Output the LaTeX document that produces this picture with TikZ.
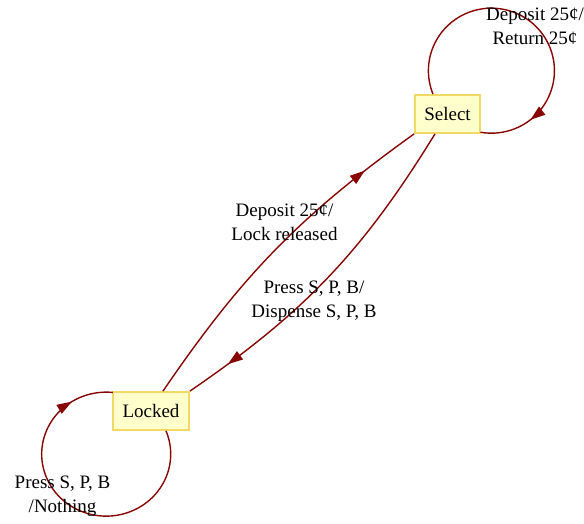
\documentclass[tikz,border=0pt]{standalone}
\usepackage{fontspec}
\setmainfont{Liberation Serif}
\usetikzlibrary{arrows.meta,decorations.markings}

\definecolor{edgered}{RGB}{135,5,5}
\definecolor{boxfill}{RGB}{255,255,204}
\definecolor{boxline}{RGB}{242,216,100}

\begin{document}
\begin{tikzpicture}[x=1pt, y=1pt,
  state/.style={draw=boxline, fill=boxfill, line width=1.8pt, minimum height=38pt,
    inner xsep=5pt, font=\fontsize{19}{24}\selectfont},
  lbl/.style={align=center, inner sep=0pt, font=\fontsize{19}{24}\selectfont},
  trans/.style={color=edgered, line width=1.4pt,
    decoration={markings, mark=at position #1 with {\arrow{Triangle[length=15pt,width=10pt]}}},
    postaction=decorate},
]
  \useasboundingbox (0,0) rectangle (584,523);

  % --- the two states ------------------------------------------------
  \node[state, minimum width=65pt] (sel) at (447.5,409) {Select};
  \node[state, minimum width=76pt] (lck) at (151,112) {Locked};

  % --- transitions between the states --------------------------------
  \draw[trans=0.83] ([xshift=12pt]lck.north) to[bend left=10] (sel.south west);
  \draw[trans=0.87] ([xshift=-12.5pt]sel.south) to[bend left=12] (lck.north east);

  % --- self loops ----------------------------------------------------
  \draw[trans=0.84] ([xshift=-14.5pt]sel.north)
    arc[start angle=202, end angle=-100, x radius=63pt, y radius=62.5pt];
  \draw[trans=0.87] ([xshift=15pt]lck.south)
    arc[start angle=22, end angle=-276, x radius=64.5pt, y radius=62pt];

  % --- labels --------------------------------------------------------
  \node[lbl] (selloop) at (535,497) {Deposit 25¢/\\Return 25¢};
  \node[lbl] (unlock) at (284.5,300.5) {Deposit 25¢/\\Lock released};
  \node[lbl] (vend) at (314,221.5) {Press S, P, B/\\Dispense S, P, B};
  \node[lbl] (lckloop) at (62.5,26.5) {Press S, P, B\\/Nothing};
\end{tikzpicture}
\end{document}
